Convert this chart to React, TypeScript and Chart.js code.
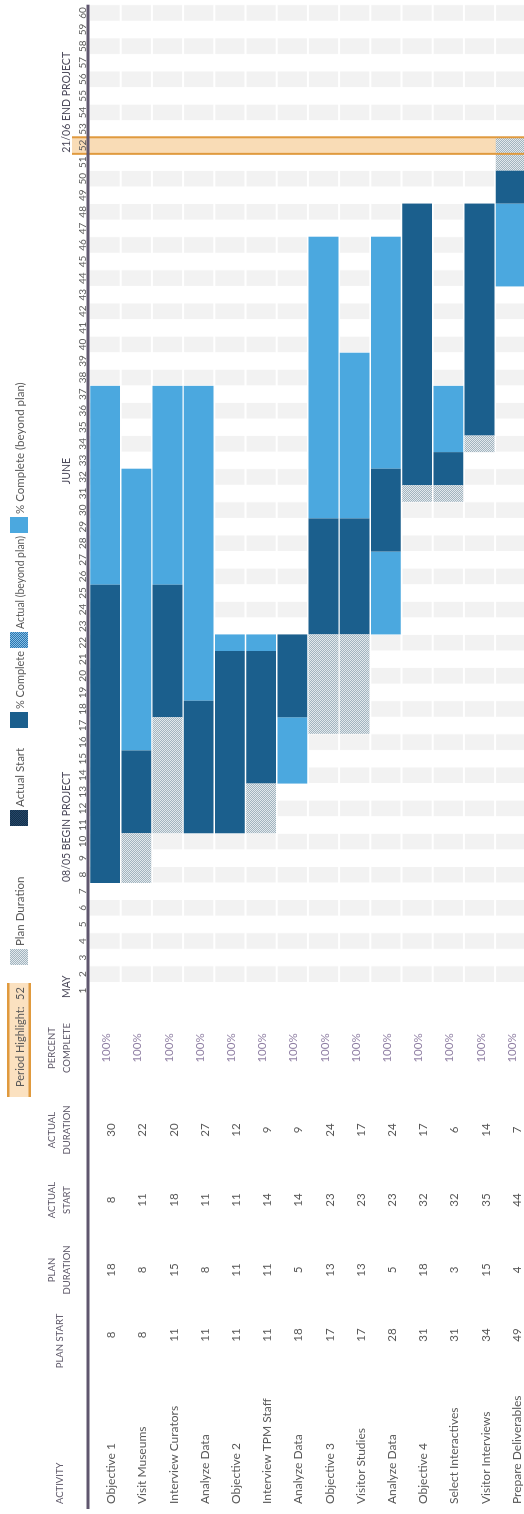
import { useEffect, useRef } from "react";
import { Chart, registerables } from "chart.js";

Chart.register(...registerables);

// ---------- data ----------
const activities = [
  "Objective 1",
  "Visit Museums",
  "Interview Curators",
  "Analyze Data",
  "Objective 2",
  "Interview TPM Staff",
  "Analyze Data",
  "Objective 3",
  "Visitor Studies",
  "Analyze Data",
  "Objective 4",
  "Select Interactives",
  "Visitor Interviews",
  "Prepare Deliverables",
];
const planStart = [8, 8, 11, 11, 11, 11, 18, 17, 17, 28, 31, 31, 34, 49];
const planDuration = [18, 8, 15, 8, 11, 11, 5, 13, 13, 5, 18, 3, 15, 4];
const actualStart = [8, 11, 18, 11, 11, 14, 14, 23, 23, 23, 32, 32, 35, 44];
const actualDuration = [30, 22, 20, 27, 12, 9, 9, 24, 17, 24, 17, 6, 14, 7];
const percentComplete = [100, 100, 100, 100, 100, 100, 100, 100, 100, 100, 100, 100, 100, 100];

const periods = Array.from({ length: 60 }, (_, i) => i + 1);
const markerPeriods = [1, 8, 32, 52];
const markerTexts = ["MAY", "08/05 BEGIN PROJECT", "JUNE", "21/06 END PROJECT"];
const periodHighlight = 52;

const headerLines = [
  ["ACTIVITY"],
  ["PLAN START"],
  ["PLAN", "DURATION"],
  ["ACTUAL", "START"],
  ["ACTUAL", "DURATION"],
  ["PERCENT", "COMPLETE"],
];
const legendLabels = [
  "Plan Duration",
  "Actual Start",
  "% Complete",
  "Actual (beyond plan)",
  "% Complete (beyond plan)",
];

// ---------- styles ----------
const W = 1514;
const H = 530;
const FONT = "Lato, 'Open Sans', sans-serif";
const DARK = "#1b5f8d";
const LIGHT = "#4ba8df";
const STRIPE = "#f2f2f2";
const HL_FILL = "#f9dcb6";
const HL_LINE = "#e09a3e";
const AXIS_LINE = "#5f566e";
const TEXT = "#595959";
const HEAD = "#5b5566";
const PCT = "#8f7fa3";
const LEGEND_X = [549, 688, 786, 866, 981];

type Seg = [number, number] | null;

function segments(i: number) {
  const ps = planStart[i];
  const pe = ps + planDuration[i];
  const as = actualStart[i];
  const ae = as + (actualDuration[i] * percentComplete[i]) / 100;
  const seg = (a: number, b: number): Seg => (b > a ? [a - 0.5, b - 0.5] : null);
  return {
    hatchBefore: seg(ps, Math.min(pe, as)),
    hatchAfter: seg(Math.max(ps, ae), pe),
    dark: seg(Math.max(ps, as), Math.min(pe, ae)),
    lightBefore: seg(as, Math.min(ae, ps)),
    lightAfter: seg(Math.max(as, pe), ae),
  };
}

function makePattern(ctx: CanvasRenderingContext2D, c1: string, c2: string) {
  const cv = document.createElement("canvas");
  cv.width = 2;
  cv.height = 2;
  const g = cv.getContext("2d")!;
  g.fillStyle = c1;
  g.fillRect(0, 0, 2, 2);
  g.fillStyle = c2;
  g.fillRect(0, 0, 1, 1);
  g.fillRect(1, 1, 1, 1);
  return ctx.createPattern(cv, "repeat") as CanvasPattern;
}

export default function App() {
  const canvasRef = useRef<HTMLCanvasElement | null>(null);

  useEffect(() => {
    const canvas = canvasRef.current;
    if (!canvas) return;
    const ctx0 = canvas.getContext("2d")!;
    const planPattern = makePattern(ctx0, "#e2e9ed", "#a2b4bf");
    const actualPattern = makePattern(ctx0, "#86bfe4", "#2c76b0");
    const navyPattern = makePattern(ctx0, "#24476a", "#15304a");

    const segs = activities.map((_, i) => segments(i));
    const common = {
      grouped: false,
      barPercentage: 0.955,
      categoryPercentage: 1,
      borderWidth: 0,
      borderSkipped: false,
    };

    const colX = [179, 244, 314, 384, 466];

    const ganttPlugin = {
      id: "gantt",
      beforeDatasetsDraw(chart: any) {
        const { ctx, chartArea } = chart;
        const x = chart.scales.x;
        const y = chart.scales.y;
        ctx.save();
        ctx.fillStyle = STRIPE;
        periods.forEach((p) => {
          if (p % 2 === 0) {
            const x0 = x.getPixelForValue(p - 0.5);
            const x1 = x.getPixelForValue(p + 0.5);
            ctx.fillRect(x0, chartArea.top, x1 - x0, chartArea.bottom - chartArea.top);
          }
        });
        ctx.fillStyle = "#ffffff";
        for (let i = 1; i < activities.length; i++) {
          const yb = (y.getPixelForValue(i - 1) + y.getPixelForValue(i)) / 2;
          ctx.fillRect(chartArea.left, yb - 1, chartArea.right - chartArea.left, 2);
        }
        periods.forEach((p) => {
          const xb = x.getPixelForValue(p + 0.5);
          ctx.fillRect(xb - 0.5, chartArea.top, 1, chartArea.bottom - chartArea.top);
        });
        const h0 = x.getPixelForValue(periodHighlight - 0.5);
        const h1 = x.getPixelForValue(periodHighlight + 0.5);
        ctx.fillStyle = HL_FILL;
        ctx.fillRect(h0, 72, h1 - h0, chartArea.bottom - 72);
        ctx.restore();
      },
      afterDatasetsDraw(chart: any) {
        const { ctx, chartArea } = chart;
        const x = chart.scales.x;
        const y = chart.scales.y;
        ctx.save();
        const h0 = x.getPixelForValue(periodHighlight - 0.5);
        const h1 = x.getPixelForValue(periodHighlight + 0.5);
        ctx.strokeStyle = HL_LINE;
        ctx.lineWidth = 2;
        [h0, h1].forEach((hx) => {
          ctx.beginPath();
          ctx.moveTo(hx, 72);
          ctx.lineTo(hx, chartArea.bottom + 4);
          ctx.stroke();
        });

        ctx.strokeStyle = AXIS_LINE;
        ctx.lineWidth = 3;
        ctx.beginPath();
        ctx.moveTo(5, chartArea.top - 1.5);
        ctx.lineTo(chartArea.right, chartArea.top - 1.5);
        ctx.stroke();

        ctx.fillStyle = TEXT;
        ctx.font = `10px ${FONT}`;
        ctx.textAlign = "center";
        ctx.textBaseline = "alphabetic";
        periods.forEach((p) => {
          ctx.fillText(String(p), x.getPixelForValue(p), 86);
        });

        ctx.fillStyle = "#4d4b5c";
        ctx.font = `10.5px ${FONT}`;
        ctx.textAlign = "left";
        markerPeriods.forEach((p, k) => {
          ctx.fillText(markerTexts[k], x.getPixelForValue(p - 0.5) + 1, 70);
        });

        ctx.fillStyle = HEAD;
        ctx.font = `9.5px ${FONT}`;
        headerLines.forEach((lines, c) => {
          if (c === 0) {
            ctx.textAlign = "left";
            ctx.fillText(lines[0], 10, 63);
            return;
          }
          ctx.textAlign = "center";
          const cx = colX[c - 1] - (c === 1 ? 6 : 0);
          if (lines.length === 1) {
            ctx.fillText(lines[0], cx, 63);
          } else {
            ctx.fillText(lines[0], cx, 55);
            ctx.fillText(lines[1], cx, 70);
          }
        });

        activities.forEach((name, i) => {
          const cy = y.getPixelForValue(i);
          const base = cy + 10;
          ctx.font = `12px ${FONT}`;
          ctx.fillStyle = TEXT;
          ctx.textAlign = "left";
          ctx.fillText(name, 10, base);
          ctx.textAlign = "center";
          ctx.font = `11.5px ${FONT}`;
          const vals = [planStart[i], planDuration[i], actualStart[i], actualDuration[i]];
          vals.forEach((v, c) => ctx.fillText(String(v), colX[c], base));
          ctx.fillStyle = PCT;
          ctx.fillText(`${percentComplete[i]}%`, colX[4], cy + 5);
        });

        ctx.fillStyle = "#fbe1c0";
        ctx.fillRect(417, 7, 114, 24);
        ctx.fillStyle = HL_LINE;
        ctx.fillRect(417, 7, 114, 2.5);
        ctx.fillRect(417, 28.5, 114, 2.5);
        ctx.fillStyle = TEXT;
        ctx.font = `11px ${FONT}`;
        ctx.textAlign = "left";
        ctx.fillText("Period Highlight:", 427, 24);
        ctx.fillText(String(periodHighlight), 514, 24);

        const swatches: (string | CanvasPattern)[] = [planPattern, navyPattern, DARK, actualPattern, LIGHT];
        ctx.font = `11.5px ${FONT}`;
        legendLabels.forEach((label, k) => {
          const lx = LEGEND_X[k];
          ctx.fillStyle = swatches[k];
          ctx.fillRect(lx, 10, 16, 18);
          ctx.fillStyle = TEXT;
          const next = k + 1 < LEGEND_X.length ? LEGEND_X[k + 1] - lx - 22 : 400;
          ctx.fillText(label, lx + 19, 24, next);
        });
        ctx.restore();
      },
    };

    const chart = new Chart(canvas, {
      type: "bar",
      data: {
        labels: activities,
        datasets: [
          { label: "Plan Duration", data: segs.map((s) => s.hatchBefore), backgroundColor: planPattern, ...common },
          { label: "Plan Duration ", data: segs.map((s) => s.hatchAfter), backgroundColor: planPattern, ...common },
          { label: "% Complete", data: segs.map((s) => s.dark), backgroundColor: DARK, ...common },
          { label: "% Complete (beyond plan)", data: segs.map((s) => s.lightBefore), backgroundColor: LIGHT, ...common },
          { label: "% Complete (beyond plan) ", data: segs.map((s) => s.lightAfter), backgroundColor: LIGHT, ...common },
        ] as any,
      },
      options: {
        indexAxis: "y",
        responsive: false,
        animation: false,
        devicePixelRatio: 1,
        layout: { padding: { left: 515, right: W - 1509.3, top: 89.5, bottom: H - (89.5 + 14 * 31.2) } },
        scales: {
          x: { type: "linear", min: 0.5, max: 60.5, display: false },
          y: { type: "category", display: false, offset: true },
        },
        plugins: { legend: { display: false }, tooltip: { enabled: false } },
      },
      plugins: [ganttPlugin],
    });
    return () => chart.destroy();
  }, []);

  return (
    <div
      style={{
        position: "fixed",
        left: 0,
        top: 0,
        width: 524,
        height: 1514,
        overflow: "hidden",
        background: "#ffffff",
      }}
    >
      <div
        style={{
          position: "absolute",
          left: 0,
          top: 0,
          width: W,
          height: H,
          transformOrigin: "0 0",
          transform: `translate(0px, ${W}px) rotate(-90deg)`,
        }}
      >
        <canvas ref={canvasRef} width={W} height={H} style={{ width: W, height: H, display: "block" }} />
      </div>
    </div>
  );
}
